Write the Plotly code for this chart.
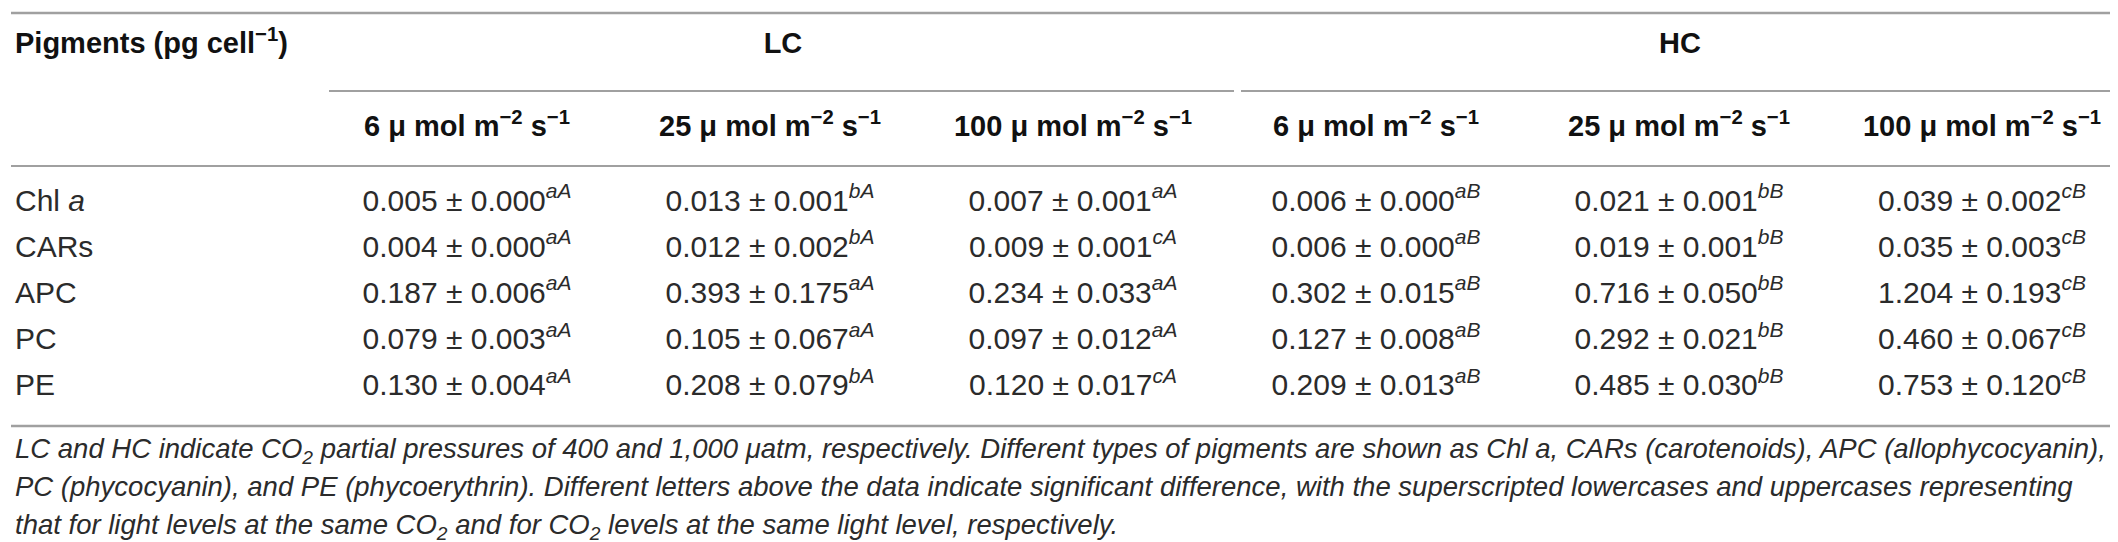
import plotly.graph_objects as go

# Pigment content table (pg cell-1), mean ± SD with significance letters
pigments = ["Chl <i>a</i>", "CARs", "APC", "PC", "PE"]
co2_groups = ["LC", "HC"]
light_levels = ["6", "25", "100"]

lc6_mean = [0.005, 0.004, 0.187, 0.079, 0.130]
lc6_sd = [0.000, 0.000, 0.006, 0.003, 0.004]
lc6_sig = ["aA", "aA", "aA", "aA", "aA"]

lc25_mean = [0.013, 0.012, 0.393, 0.105, 0.208]
lc25_sd = [0.001, 0.002, 0.175, 0.067, 0.079]
lc25_sig = ["bA", "bA", "aA", "aA", "bA"]

lc100_mean = [0.007, 0.009, 0.234, 0.097, 0.120]
lc100_sd = [0.001, 0.001, 0.033, 0.012, 0.017]
lc100_sig = ["aA", "cA", "aA", "aA", "cA"]

hc6_mean = [0.006, 0.006, 0.302, 0.127, 0.209]
hc6_sd = [0.000, 0.000, 0.015, 0.008, 0.013]
hc6_sig = ["aB", "aB", "aB", "aB", "aB"]

hc25_mean = [0.021, 0.019, 0.716, 0.292, 0.485]
hc25_sd = [0.001, 0.001, 0.050, 0.021, 0.030]
hc25_sig = ["bB", "bB", "bB", "bB", "bB"]

hc100_mean = [0.039, 0.035, 1.204, 0.460, 0.753]
hc100_sd = [0.002, 0.003, 0.193, 0.067, 0.120]
hc100_sig = ["cB", "cB", "cB", "cB", "cB"]

footnote = [
    "LC and HC indicate CO<sub>2</sub> partial pressures of 400 and 1,000 \u03bcatm, respectively. "
    "Different types of pigments are shown as Chl a, CARs (carotenoids), APC (allophycocyanin),",
    "PC (phycocyanin), and PE (phycoerythrin). Different letters above the data indicate significant "
    "difference, with the superscripted lowercases and uppercases representing",
    "that for light levels at the same CO<sub>2</sub> and for CO<sub>2</sub> levels at the same light level, respectively.",
]

columns = [
    (lc6_mean, lc6_sd, lc6_sig),
    (lc25_mean, lc25_sd, lc25_sig),
    (lc100_mean, lc100_sd, lc100_sig),
    (hc6_mean, hc6_sd, hc6_sig),
    (hc25_mean, hc25_sd, hc25_sig),
    (hc100_mean, hc100_sd, hc100_sig),
]

# layout: x = column index (1..6 data columns), y = row index (0..4 data rows)
W, H = 2118, 542
COL0_PX, COL_W = 156, 303
ROW0_PX, ROW_H = 195, 46.2
x_range = [-COL0_PX / COL_W, (W - COL0_PX) / COL_W]
y_range = [(H - ROW0_PX) / ROW_H, -ROW0_PX / ROW_H]


def ypx(p):
    return (p - ROW0_PX) / ROW_H


def xpx(p):
    return (p - COL0_PX) / COL_W


FONT = "Liberation Sans, Arial, Helvetica, sans-serif"
BODY = "#2b2b2b"
HEAD = "#111111"
RULE = "#a0a0a0"

fig = go.Figure()

# body cells
for ci, (mean, sd, sig) in enumerate(columns, start=1):
    cells = [f"{m:.3f} \u00b1 {s:.3f}<sup><i>{g}</i></sup>" for m, s, g in zip(mean, sd, sig)]
    fig.add_trace(go.Scatter(
        x=[ci] * len(cells), y=list(range(len(cells))), text=cells,
        mode="text", textposition="middle center",
        textfont=dict(family=FONT, size=30, color=BODY),
        hoverinfo="skip", showlegend=False,
    ))

# row labels
fig.add_trace(go.Scatter(
    x=[xpx(7)] * len(pigments), y=list(range(len(pigments))), text=pigments,
    mode="text", textposition="middle right",
    textfont=dict(family=FONT, size=30, color=BODY),
    hoverinfo="skip", showlegend=False,
))

# header: light levels
sub_heads = [f"<b>{lv} \u03bc mol m<sup>\u22122</sup> s<sup>\u22121</sup></b>"
             for _ in co2_groups for lv in light_levels]
fig.add_trace(go.Scatter(
    x=list(range(1, 7)), y=[ypx(121)] * 6, text=sub_heads,
    mode="text", textposition="middle center",
    textfont=dict(family=FONT, size=29, color=HEAD),
    hoverinfo="skip", showlegend=False,
))

# header: CO2 groups (centred over their three columns)
fig.add_trace(go.Scatter(
    x=[xpx(775), xpx(1672)], y=[ypx(38)] * 2, text=[f"<b>{g}</b>" for g in co2_groups],
    mode="text", textposition="middle center",
    textfont=dict(family=FONT, size=29, color=HEAD),
    hoverinfo="skip", showlegend=False,
))
fig.add_trace(go.Scatter(
    x=[xpx(7)], y=[ypx(38)], text=["<b>Pigments (pg cell<sup>\u22121</sup>)</b>"],
    mode="text", textposition="middle right",
    textfont=dict(family=FONT, size=29, color=HEAD),
    hoverinfo="skip", showlegend=False,
))

# footnote
fig.add_trace(go.Scatter(
    x=[xpx(7)] * len(footnote), y=[ypx(443), ypx(481), ypx(519)],
    text=[f"<i>{t}</i>" for t in footnote],
    mode="text", textposition="middle right",
    textfont=dict(family=FONT, size=27.5, color=BODY),
    hoverinfo="skip", showlegend=False,
))

# rules
x_left, x_right = xpx(3), xpx(2112)
rules = [
    (x_left, x_right, ypx(5), 2.4),
    (xpx(321), xpx(1226), ypx(83), 1.8),
    (xpx(1233), x_right, ypx(83), 1.8),
    (x_left, x_right, ypx(158), 1.8),
    (x_left, x_right, ypx(418), 2.4),
]
for x0, x1, y, w in rules:
    fig.add_shape(type="line", x0=x0, x1=x1, y0=y, y1=y, xref="x", yref="y",
                  line=dict(color=RULE, width=w))

fig.update_xaxes(range=x_range, visible=False, fixedrange=True)
fig.update_yaxes(range=y_range, visible=False, fixedrange=True)
fig.update_layout(
    width=W, height=H,
    margin=dict(l=0, r=0, t=0, b=0),
    paper_bgcolor="white", plot_bgcolor="white",
)

fig.write_html("out.html")
